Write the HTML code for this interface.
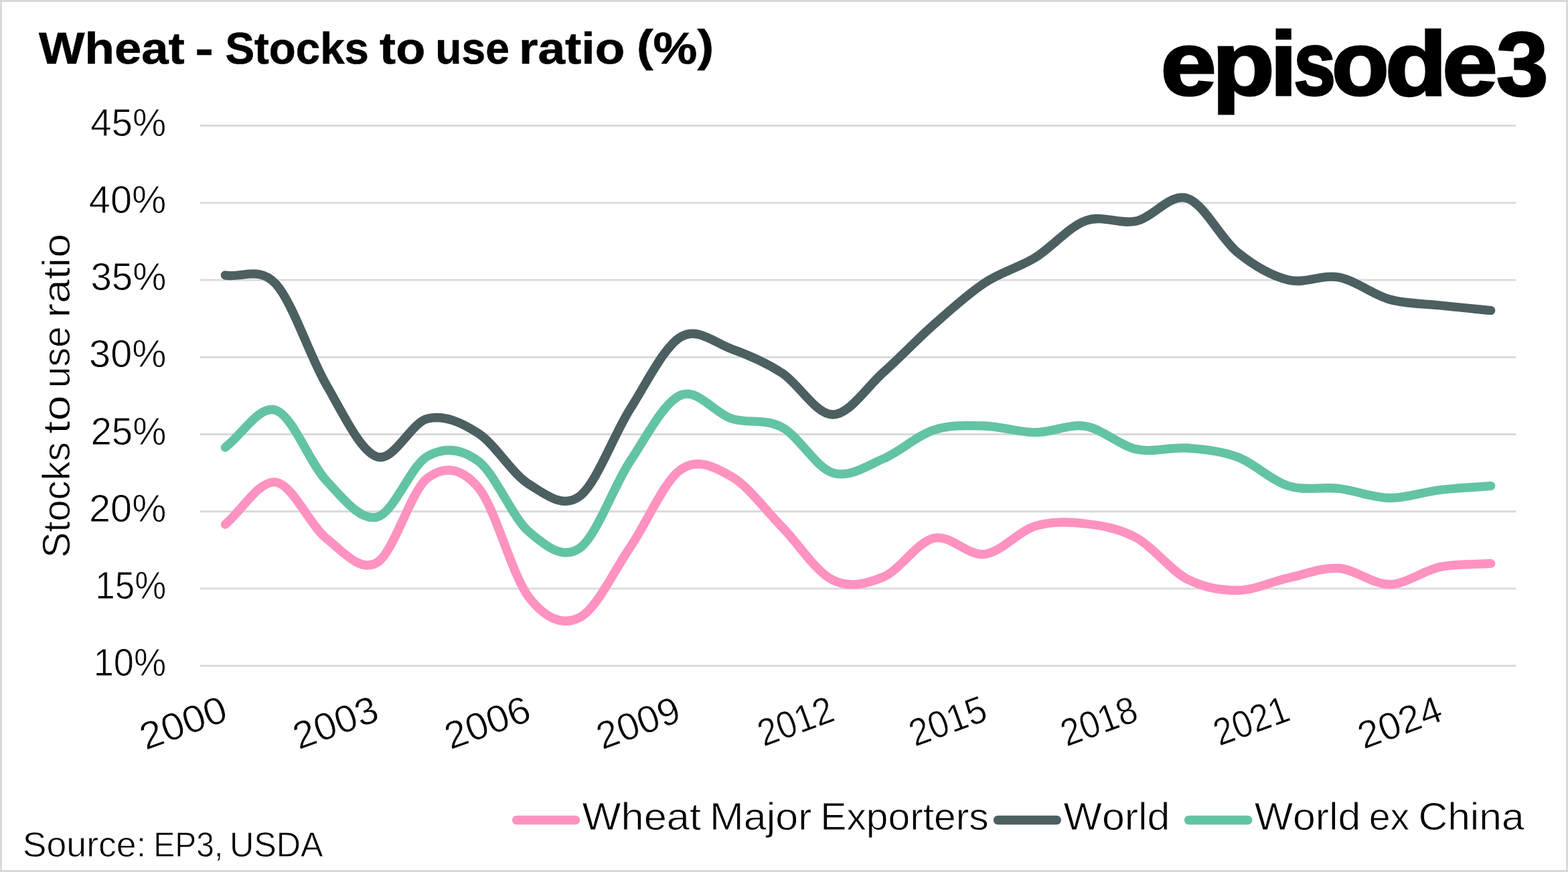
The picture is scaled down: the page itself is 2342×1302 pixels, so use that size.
<!DOCTYPE html>
<html lang="en"><head><meta charset="utf-8">
<title>Wheat - Stocks to use ratio (%)</title>
<style>
html,body{margin:0;padding:0;background:#fff;}
body{width:2342px;height:1302px;overflow:hidden;}
svg{display:block;}
text{font-family:"Liberation Sans",Arial,Helvetica,sans-serif;font-kerning:none;fill:#000;white-space:pre;}
text.b{font-weight:700;}
text.r{font-weight:400;}
.grid line{stroke:#d9d9d9;stroke-width:2.8;}
.series path,.legend line{fill:none;stroke-width:13.3;stroke-linecap:round;stroke-linejoin:round;}
</style></head><body>
<svg width="2342" height="1302" viewBox="0 0 2342 1302" role="img" aria-label="Wheat - Stocks to use ratio (%)">
<rect x="0" y="0" width="2342" height="1302" fill="#fff"/>
<rect x="1.5" y="1.5" width="2339" height="1299" fill="none" stroke="#d9d9d9" stroke-width="3"/>
<g class="grid">
<line x1="298.6" y1="994.2" x2="2264.5" y2="994.2"/>
<line x1="298.6" y1="878.97" x2="2264.5" y2="878.97"/>
<line x1="298.6" y1="763.74" x2="2264.5" y2="763.74"/>
<line x1="298.6" y1="648.51" x2="2264.5" y2="648.51"/>
<line x1="298.6" y1="533.29" x2="2264.5" y2="533.29"/>
<line x1="298.6" y1="418.06" x2="2264.5" y2="418.06"/>
<line x1="298.6" y1="302.83" x2="2264.5" y2="302.83"/>
<line x1="298.6" y1="187.6" x2="2264.5" y2="187.6"/>
</g>
<g class="yticks">
<text class="r" font-size="57.2" y="202.6" stroke="#fff" stroke-width="0.8"><tspan x="135.2" textLength="113.11" lengthAdjust="spacingAndGlyphs">45%</tspan></text>
<text class="r" font-size="57.2" y="317.83" stroke="#fff" stroke-width="0.8"><tspan x="132.88" textLength="115.48" lengthAdjust="spacingAndGlyphs">40%</tspan></text>
<text class="r" font-size="57.2" y="433.06" stroke="#fff" stroke-width="0.8"><tspan x="135.45" textLength="112.86" lengthAdjust="spacingAndGlyphs">35%</tspan></text>
<text class="r" font-size="57.2" y="548.29" stroke="#fff" stroke-width="0.8"><tspan x="133.11" textLength="115.25" lengthAdjust="spacingAndGlyphs">30%</tspan></text>
<text class="r" font-size="57.2" y="663.51" stroke="#fff" stroke-width="0.8"><tspan x="135.46" textLength="112.85" lengthAdjust="spacingAndGlyphs">25%</tspan></text>
<text class="r" font-size="57.2" y="778.74" stroke="#fff" stroke-width="0.8"><tspan x="133.1" textLength="115.25" lengthAdjust="spacingAndGlyphs">20%</tspan></text>
<text class="r" font-size="57.2" y="893.97" stroke="#fff" stroke-width="0.8"><tspan x="142.37" textLength="105.81" lengthAdjust="spacingAndGlyphs">15%</tspan></text>
<text class="r" font-size="57.2" y="1009.2" stroke="#fff" stroke-width="0.8"><tspan x="139.67" textLength="108.57" lengthAdjust="spacingAndGlyphs">10%</tspan></text>
</g>
<g class="xticks">
<text class="r" font-size="57.2" transform="translate(217.6 1120.46) rotate(-20) scale(1.0503 1)" stroke="#fff" stroke-width="0.8">2000</text>
<text class="r" font-size="57.2" transform="translate(446.3 1119.66) rotate(-20) scale(1.0277 1)" stroke="#fff" stroke-width="0.8">2003</text>
<text class="r" font-size="57.2" transform="translate(672.66 1119.66) rotate(-20) scale(1.0353 1)" stroke="#fff" stroke-width="0.8">2006</text>
<text class="r" font-size="57.2" transform="translate(899.52 1119.66) rotate(-20) scale(1.0094 1)" stroke="#fff" stroke-width="0.8">2009</text>
<text class="r" font-size="57.2" transform="translate(1140.42 1115.16) rotate(-20) scale(0.9139 1)" stroke="#fff" stroke-width="0.8">2012</text>
<text class="r" font-size="57.2" transform="translate(1366.44 1115.16) rotate(-20) scale(0.9329 1)" stroke="#fff" stroke-width="0.8">2015</text>
<text class="r" font-size="57.2" transform="translate(1592.96 1115.3) rotate(-20) scale(0.9197 1)" stroke="#fff" stroke-width="0.8">2018</text>
<text class="r" font-size="57.2" transform="translate(1821.28 1114.3) rotate(-20) scale(0.9076 1)" stroke="#fff" stroke-width="0.8">2021</text>
<text class="r" font-size="57.2" transform="translate(2036.7 1119.02) rotate(-20) scale(1.0144 1)" stroke="#fff" stroke-width="0.8">2024</text>
</g>
<g class="ytitle" transform="translate(103.9 0) rotate(-90)">
<text class="r" font-size="57" y="0" stroke="#fff" stroke-width="0.8"><tspan x="-833.02" textLength="173.21" lengthAdjust="spacingAndGlyphs">Stocks</tspan> <tspan x="-647.74" textLength="57.43" lengthAdjust="spacingAndGlyphs">to</tspan> <tspan x="-579.31" textLength="92.04" lengthAdjust="spacingAndGlyphs">use</tspan> <tspan x="-474.49" textLength="125.6" lengthAdjust="spacingAndGlyphs">ratio</tspan></text>
</g>
<g class="series">
<path stroke="#ff92c0" d="M336.41 783C361.61 762 386.81 716.5 412.02 720C437.22 723.5 462.43 784 487.63 804C512.83 824 538.04 855.08 563.24 840C588.44 824.92 613.65 732.17 638.85 713.5C664.06 694.83 689.26 698.25 714.46 728C739.67 757.75 764.87 859.67 790.08 892C815.28 924.33 840.48 934.5 865.69 922C890.89 909.5 916.09 853.83 941.3 817C966.5 780.17 991.71 718.58 1016.91 701C1042.11 683.42 1067.32 697.17 1092.52 711.5C1117.73 725.83 1142.93 761.25 1168.13 787C1193.34 812.75 1218.54 853.58 1243.74 866C1268.95 878.42 1294.15 871.92 1319.36 861.5C1344.56 851.08 1369.76 809.17 1394.97 803.5C1420.17 797.83 1445.37 830.5 1470.58 827.5C1495.78 824.5 1520.99 793.08 1546.19 785.5C1571.39 777.92 1596.6 779.08 1621.8 782C1647.01 784.92 1672.21 789.25 1697.41 803C1722.62 816.75 1747.82 851.42 1773.03 864.5C1798.23 877.58 1823.43 881.75 1848.64 881.5C1873.84 881.25 1899.04 868.5 1924.25 863C1949.45 857.5 1974.66 846.92 1999.86 848.5C2025.06 850.08 2050.27 872.83 2075.47 872.5C2100.68 872.17 2125.88 851.68 2151.08 846.5C2176.29 841.32 2201.49 843.1 2226.69 841.4"/>
<path stroke="#4c5f61" d="M336.41 411C361.61 415.33 386.81 396.67 412.02 424C437.22 451.33 462.43 532 487.63 575C512.83 618 538.04 673.67 563.24 682C588.44 690.33 613.65 630.83 638.85 625C664.06 619.17 689.26 630.67 714.46 647C739.67 663.33 764.87 707.33 790.08 723C815.28 738.67 840.48 759.75 865.69 741C890.89 722.25 916.09 650.17 941.3 610.5C966.5 570.83 991.71 517.92 1016.91 503C1042.11 488.08 1067.32 512 1092.52 521C1117.73 530 1142.93 540.67 1168.13 557C1193.34 573.33 1218.54 619.17 1243.74 619C1268.95 618.83 1294.15 578.42 1319.36 556C1344.56 533.58 1369.76 506.75 1394.97 484.5C1420.17 462.25 1445.37 439.15 1470.58 422.5C1495.78 405.85 1520.99 400.1 1546.19 384.6C1571.39 369.1 1596.6 338.6 1621.8 329.5C1647.01 320.4 1672.21 335.58 1697.41 330C1722.62 324.42 1747.82 288.17 1773.03 296C1798.23 303.83 1823.43 356.67 1848.64 377C1873.84 397.33 1899.04 411.83 1924.25 418C1949.45 424.17 1974.66 409.17 1999.86 414C2025.06 418.83 2050.27 440 2075.47 447C2100.68 454 2125.88 453.25 2151.08 456C2176.29 458.75 2201.49 461 2226.69 463.5"/>
<path stroke="#63c3a5" d="M336.41 668C361.61 649.5 386.81 604.17 412.02 612.5C437.22 620.83 462.43 691.42 487.63 718C512.83 744.58 538.04 778.17 563.24 772C588.44 765.83 613.65 694.92 638.85 681C664.06 667.08 689.26 669.67 714.46 688.5C739.67 707.33 764.87 772.33 790.08 794C815.28 815.67 840.48 836.08 865.69 818.5C890.89 800.92 916.09 726.58 941.3 688.5C966.5 650.42 991.71 600.58 1016.91 590C1042.11 579.42 1067.32 617 1092.52 625C1117.73 633 1142.93 624.5 1168.13 638C1193.34 651.5 1218.54 698.17 1243.74 706C1268.95 713.83 1294.15 695.67 1319.36 685C1344.56 674.33 1369.76 650.17 1394.97 642C1420.17 633.83 1445.37 635.38 1470.58 636C1495.78 636.62 1520.99 645.62 1546.19 645.7C1571.39 645.78 1596.6 632.32 1621.8 636.5C1647.01 640.68 1672.21 665.38 1697.41 670.8C1722.62 676.22 1747.82 667.05 1773.03 669C1798.23 670.95 1823.43 673.08 1848.64 682.5C1873.84 691.92 1899.04 717.67 1924.25 725.5C1949.45 733.33 1974.66 726.5 1999.86 729.5C2025.06 732.5 2050.27 743.17 2075.47 743.5C2100.68 743.83 2125.88 734.48 2151.08 731.5C2176.29 728.52 2201.49 727.57 2226.69 725.6"/>
</g>
<g class="title">
<text class="b" font-size="66" y="95" stroke="#000" stroke-width="0.6"><tspan x="58.13" textLength="217.66" lengthAdjust="spacingAndGlyphs">Wheat</tspan> <tspan x="291.48" textLength="27.41" lengthAdjust="spacingAndGlyphs">-</tspan> <tspan x="336.42" textLength="214.57" lengthAdjust="spacingAndGlyphs">Stocks</tspan> <tspan x="567.12" textLength="68.1" lengthAdjust="spacingAndGlyphs">to</tspan> <tspan x="650.32" textLength="110.57" lengthAdjust="spacingAndGlyphs">use</tspan> <tspan x="775.09" textLength="158.16" lengthAdjust="spacingAndGlyphs">ratio</tspan> <tspan x="950.91" textLength="115.18" lengthAdjust="spacingAndGlyphs"><tspan dy="-4.5">(</tspan><tspan dy="4.5">%</tspan><tspan dy="-4.5">)</tspan></tspan></text>
</g>
<g class="logo">
<text class="b" font-size="135" y="142" stroke="#000" stroke-width="3" stroke-linejoin="miter"><tspan x="1733.44" textLength="83.38" lengthAdjust="spacingAndGlyphs">e</tspan><tspan x="1810.39" textLength="93.7" lengthAdjust="spacingAndGlyphs">p</tspan><tspan x="1896.92" textLength="40.5" lengthAdjust="spacingAndGlyphs">i</tspan><tspan x="1931.9" textLength="63.26" lengthAdjust="spacingAndGlyphs">s</tspan><tspan x="1988.79" textLength="86.11" lengthAdjust="spacingAndGlyphs">o</tspan><tspan x="2068.67" textLength="92.73" lengthAdjust="spacingAndGlyphs">d</tspan><tspan x="2153.98" textLength="82.8" lengthAdjust="spacingAndGlyphs">e</tspan><tspan x="2235" textLength="77.65" lengthAdjust="spacingAndGlyphs">3</tspan></text>
</g>
<g class="legend">
<line x1="771.6" y1="1224.5" x2="859.7" y2="1224.5" stroke="#ff92c0"/>
<line x1="1490.4" y1="1224.5" x2="1578.3" y2="1224.5" stroke="#4c5f61"/>
<line x1="1775.5" y1="1224.5" x2="1863.8" y2="1224.5" stroke="#63c3a5"/>
<text class="r" font-size="57.2" y="1239.4" stroke="#fff" stroke-width="0.8"><tspan x="869.63" textLength="177.32" lengthAdjust="spacingAndGlyphs">Wheat</tspan> <tspan x="1060" textLength="152.41" lengthAdjust="spacingAndGlyphs">Major</tspan> <tspan x="1225.28" textLength="251.34" lengthAdjust="spacingAndGlyphs">Exporters</tspan></text>
<text class="r" font-size="57.2" y="1239.4" stroke="#fff" stroke-width="0.8"><tspan x="1588.53" textLength="158.89" lengthAdjust="spacingAndGlyphs">World</tspan></text>
<text class="r" font-size="57.2" y="1239.4" stroke="#fff" stroke-width="0.8"><tspan x="1873.73" textLength="158.68" lengthAdjust="spacingAndGlyphs">World</tspan> <tspan x="2044.66" textLength="60.55" lengthAdjust="spacingAndGlyphs">ex</tspan> <tspan x="2118.43" textLength="158.17" lengthAdjust="spacingAndGlyphs">China</tspan></text>
</g>
<g class="source">
<text class="r" font-size="52.7" y="1278.9" stroke="#fff" stroke-width="0.8"><tspan x="33.77" textLength="184.73" lengthAdjust="spacingAndGlyphs">Source:</tspan> <tspan x="229.37" textLength="103.83" lengthAdjust="spacingAndGlyphs">EP3,</tspan> <tspan x="342.92" textLength="139.78" lengthAdjust="spacingAndGlyphs">USDA</tspan></text>
</g>
</svg>
</body></html>
